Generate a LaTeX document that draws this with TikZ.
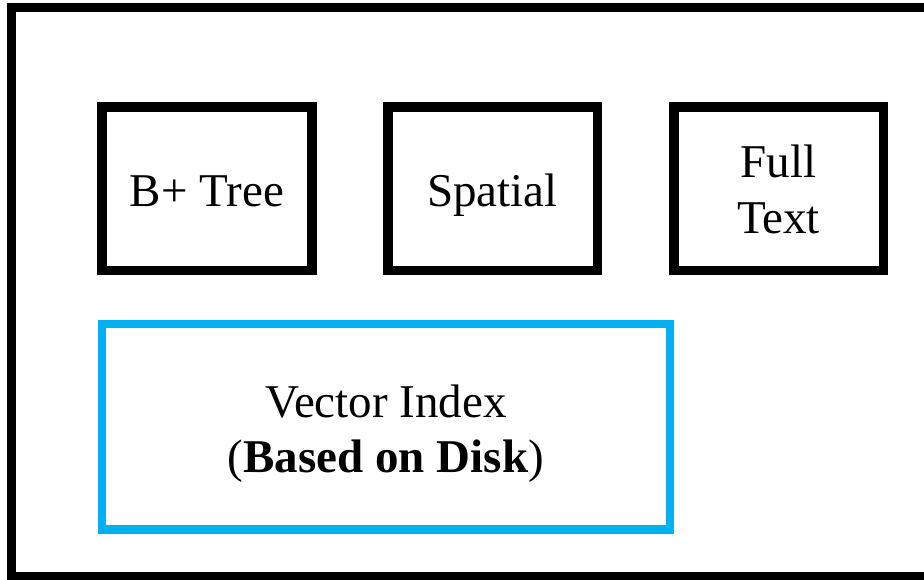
\documentclass[tikz,border=0pt]{standalone}
\usepackage{fontspec}
\setmainfont{Liberation Serif}
\definecolor{skyblue}{RGB}{0,176,240}
\begin{document}
\begin{tikzpicture}[x=1pt,y=-1pt,
  frame/.style={draw=black,line width=9pt},
  idxbox/.style={draw=black,line width=9.5pt},
  vecbox/.style={draw=skyblue,line width=8.5pt},
  lbl/.style={inner sep=0pt,anchor=base,font=\fontsize{47}{55}\selectfont}]
  \useasboundingbox (0,0) rectangle (924,580);
  % outer container
  \draw[frame] (11.5,8) rectangle (932,576.5);
  % index kinds
  \draw[idxbox] (102,107) rectangle (312,270.5);
  \draw[idxbox] (388,107) rectangle (597.5,270.5);
  \draw[idxbox] (674,107) rectangle (883.5,270.5);
  \draw[vecbox] (102,324) rectangle (670,529.5);
  % labels
  \node[lbl] (btree) at (207,207) {B+ Tree};
  \node[lbl] (spatial) at (492.5,207) {Spatial};
  \node[lbl] (full) at (778.5,178) {Full};
  \node[lbl] (text) at (778.5,234) {Text};
  \node[lbl] (vector) at (386,417) {Vector Index};
  \node[lbl] (disk) at (386,472) {(\textbf{Based on Disk})};
\end{tikzpicture}
\end{document}
